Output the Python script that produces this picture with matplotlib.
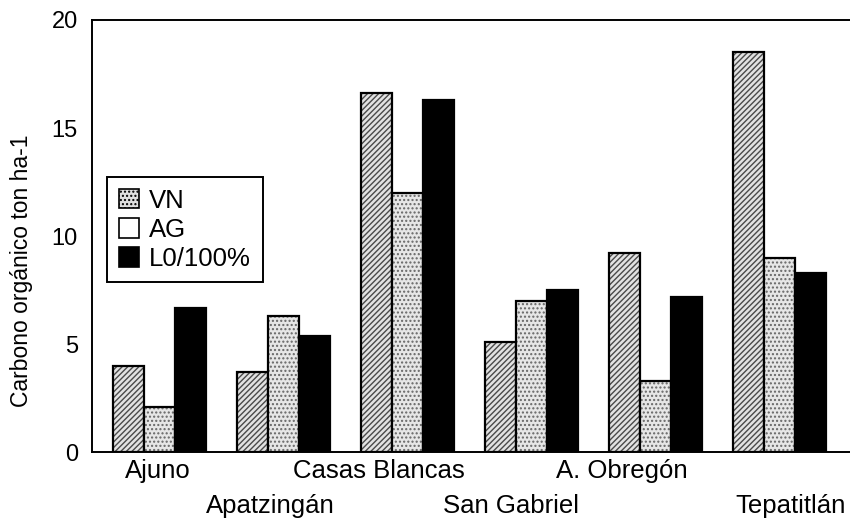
import numpy as np
import matplotlib
matplotlib.use("Agg")
import matplotlib.pyplot as plt

sites = ["Ajuno", "Apatzingán", "Casas Blancas", "San Gabriel", "A. Obregón", "Tepatitlán"]
vn = [4.0, 3.7, 16.6, 5.1, 9.2, 18.5]
ag = [2.1, 6.3, 12.0, 7.0, 3.3, 9.0]
l0 = [6.7, 5.4, 16.3, 7.5, 7.2, 8.3]
series_names = ["VN", "AG", "L0/100%"]

plt.rcParams["font.family"] = ["Liberation Sans", "DejaVu Sans"]

x = np.arange(len(sites))
w = 0.25

fig = plt.figure(figsize=(8.5, 5.26), dpi=100)
ax = fig.add_axes([0.108, 0.14, 0.892, 0.822])

# VN: hatched light grey
ax.bar(x - w, vn, w, color="#e2e2e2", edgecolor="#4a4a4a", hatch="//////", linewidth=0)
ax.bar(x - w, vn, w, color="none", edgecolor="black", linewidth=1.6)
# AG: stippled
ax.bar(x, ag, w, color="#e6e6e6", edgecolor="#666666", hatch="....", linewidth=0)
ax.bar(x, ag, w, color="none", edgecolor="black", linewidth=1.6)
# L0/100%: solid black
ax.bar(x + w, l0, w, color="black", edgecolor="black", linewidth=1.6)

ax.set_ylim(0, 20)
ax.set_xlim(-0.55, 5.57)
ax.set_yticks([0, 5, 10, 15, 20])
ax.tick_params(axis="y", labelsize=17, length=0, pad=10)
for s in ["left", "top", "bottom"]:
    ax.spines[s].set_linewidth(1.4)
ax.spines["right"].set_visible(False)

# staggered site labels, shifted like the original
shift = np.array([-0.02, -0.11, -0.23, -0.17, -0.27, 0.09])
pos = x + shift
ax.set_xticks(pos[0::2])
ax.set_xticklabels(sites[0::2], fontsize=18.5)
ax.set_xticks(pos[1::2], minor=True)
ax.set_xticklabels(sites[1::2], minor=True, fontsize=18.5)
ax.tick_params(axis="x", which="major", length=0, pad=5)
ax.tick_params(axis="x", which="minor", length=0, pad=30)

ax.set_ylabel("Carbono orgánico ton ha-1", fontsize=16.5)
ax.yaxis.set_label_coords(-0.078, 0.42)

# legend swatches like the original key
h1 = plt.Rectangle((0, 0), 1, 1, facecolor="#e0e0e0", edgecolor="black", hatch="....", linewidth=1.2)
h2 = plt.Rectangle((0, 0), 1, 1, facecolor="white", edgecolor="black", linewidth=1.2)
h3 = plt.Rectangle((0, 0), 1, 1, facecolor="black", edgecolor="black", linewidth=1.2)
leg = ax.legend([h1, h2, h3], series_names, loc="upper left", bbox_to_anchor=(0.02, 0.637),
                fontsize=18.5, frameon=True, fancybox=False, edgecolor="black",
                handlelength=0.8, handleheight=0.8, handletextpad=0.4,
                labelspacing=0.2, borderpad=0.45, borderaxespad=0)
leg.get_frame().set_linewidth(1.4)
leg.get_frame().set_alpha(1)

fig.savefig("out.png", dpi=100)
